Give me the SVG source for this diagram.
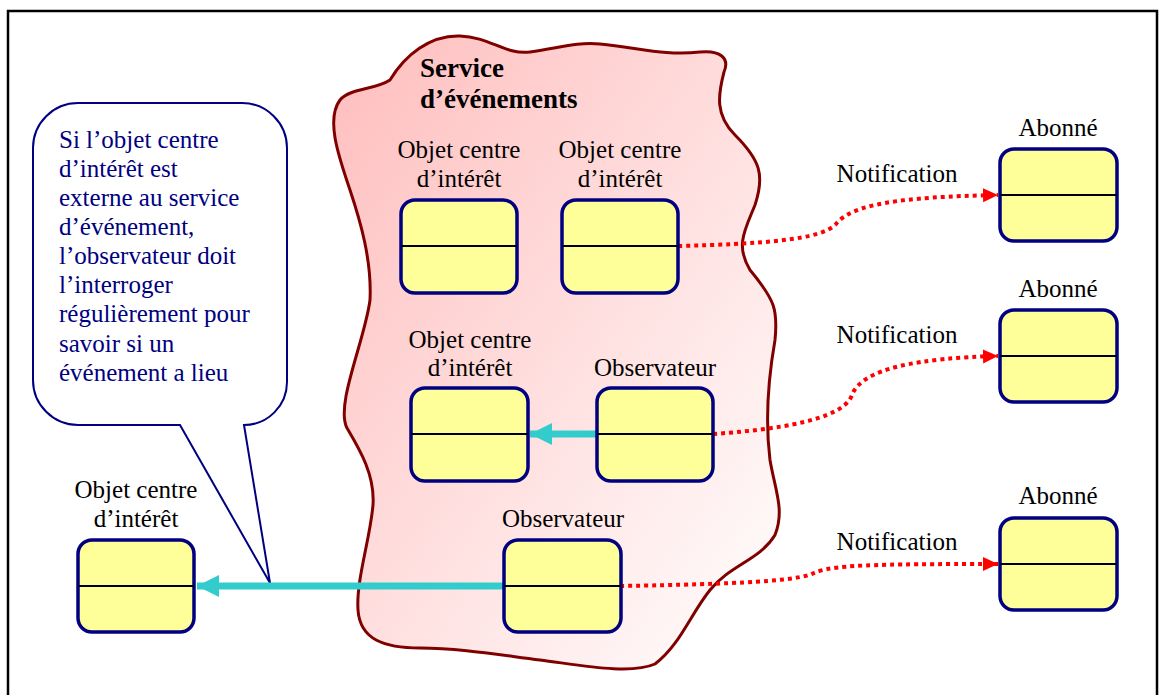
<svg xmlns="http://www.w3.org/2000/svg" width="1164" height="695" viewBox="0 0 1164 695" font-family="'Liberation Serif', 'DejaVu Serif', 'Times New Roman', serif">
  <defs>
    <linearGradient id="blobFill" x1="0" y1="0" x2="1" y2="1">
      <stop offset="0" stop-color="#FFBDBD"/>
      <stop offset="1" stop-color="#FFFFFF"/>
    </linearGradient>
    <marker id="redHead" markerUnits="userSpaceOnUse" markerWidth="16" markerHeight="16" refX="15" refY="7" orient="auto">
      <path d="M0,0 L15,7 L0,14 Z" fill="#FF0000"/>
    </marker>
    <marker id="cyanHead" markerUnits="userSpaceOnUse" markerWidth="24" markerHeight="24" refX="22" refY="11" orient="auto">
      <path d="M0,0 L22,11 L0,22 Z" fill="#33CCCC"/>
    </marker>
  </defs>
  <style>
    .frame { fill: none; stroke: #000; stroke-width: 2.5; }
    .blob { fill: url(#blobFill); stroke: #800000; stroke-width: 3; }
    .callout { fill: #fff; stroke: #000080; stroke-width: 2; }
    .box { fill: #FFFF99; stroke: #000080; stroke-width: 3.5; }
    .mid { stroke: #000; stroke-width: 2; }
    .lbl { font-size: 25px; fill: #000; text-anchor: middle; }
    .title { font-size: 27px; font-weight: bold; fill: #000; }
    .note { font-size: 25px; fill: #000080; }
    .notify { fill: none; stroke: #FF0000; stroke-width: 4; stroke-dasharray: 4 4; marker-end: url(#redHead); }
    .call { fill: none; stroke: #33CCCC; stroke-width: 7; marker-end: url(#cyanHead); }
  </style>

  <!-- outer frame -->
  <rect class="frame" x="8" y="11" width="1149" height="700"/>

  <!-- event service region -->
  <g id="service">
    <path class="blob" d="M390,80 C405,55 430,35 460,36 C490,37 505,55 530,52 C560,48 575,42 600,44 C640,48 665,56 700,52 C720,50 730,58 724,72 C718,95 715,115 735,135 C760,160 765,175 755,205 C745,230 735,245 750,270 C775,300 778,310 775,340 C768,380 765,420 770,460 C775,490 785,510 775,535 C760,560 730,565 710,590 C690,615 680,645 655,664 C630,675 580,665 540,660 C500,655 460,648 420,648 C385,648 360,640 358,610 C356,580 370,540 373,505 C375,475 360,450 347,428 C335,405 365,340 370,300 C372,260 360,220 350,190 C340,160 325,120 340,100 C350,88 375,90 390,80 Z"/>
    <text class="title" x="420" y="77">Service</text>
    <text class="title" x="420" y="108">d’événements</text>
  </g>

  <!-- speech bubble -->
  <g id="note">
    <path class="callout" d="M78,103 H242 A45,45 0 0 1 287,148 V382 A43,43 0 0 1 244,425 L270,583 L180,425 H78 A45,45 0 0 1 33,380 V148 A45,45 0 0 1 78,103 Z"/>
    <text class="note" x="59" y="148">Si l’objet centre</text>
    <text class="note" x="59" y="177">d’intérêt est</text>
    <text class="note" x="59" y="206">externe au service</text>
    <text class="note" x="59" y="235">d’événement,</text>
    <text class="note" x="59" y="264">l’observateur doit</text>
    <text class="note" x="59" y="293">l’interroger</text>
    <text class="note" x="59" y="322">régulièrement pour</text>
    <text class="note" x="59" y="352">savoir si un</text>
    <text class="note" x="59" y="381">événement a lieu</text>
  </g>

  <!-- connectors -->
  <g id="connectors">
    <path class="notify" d="M678,246 C760,244 822,240 836,224 C852,204 900,197 998,195"/>
    <path class="notify" d="M713,434 C800,428 845,415 852,395 C862,368 920,358 998,356"/>
    <path class="notify" d="M620,586 C740,584 798,581 814,573 C832,565 870,564 998,564"/>
    <line class="call" x1="597" y1="434" x2="530" y2="434"/>
    <line class="call" x1="503" y1="586" x2="197" y2="586"/>
  </g>

  <!-- objects -->
  <g id="subject-a">
    <text class="lbl" x="459" y="158">Objet centre</text>
    <text class="lbl" x="459" y="187">d’intérêt</text>
    <rect class="box" x="401" y="200" width="116" height="93" rx="14"/>
    <line class="mid" x1="401" y1="246" x2="517" y2="246"/>
  </g>
  <g id="subject-b">
    <text class="lbl" x="620" y="158">Objet centre</text>
    <text class="lbl" x="620" y="187">d’intérêt</text>
    <rect class="box" x="562" y="200" width="116" height="93" rx="14"/>
    <line class="mid" x1="562" y1="246" x2="678" y2="246"/>
  </g>
  <g id="subject-c">
    <text class="lbl" x="470" y="348">Objet centre</text>
    <text class="lbl" x="470" y="376">d’intérêt</text>
    <rect class="box" x="411" y="388" width="117" height="93" rx="14"/>
    <line class="mid" x1="411" y1="434" x2="528" y2="434"/>
  </g>
  <g id="observer-a">
    <text class="lbl" x="655" y="376">Observateur</text>
    <rect class="box" x="597" y="388" width="116" height="93" rx="14"/>
    <line class="mid" x1="597" y1="434" x2="713" y2="434"/>
  </g>
  <g id="observer-b">
    <text class="lbl" x="563" y="527">Observateur</text>
    <rect class="box" x="504" y="540" width="117" height="92" rx="14"/>
    <line class="mid" x1="504" y1="586" x2="621" y2="586"/>
  </g>
  <g id="subject-ext">
    <text class="lbl" x="136" y="498">Objet centre</text>
    <text class="lbl" x="136" y="527">d’intérêt</text>
    <rect class="box" x="78" y="540" width="116" height="92" rx="14"/>
    <line class="mid" x1="78" y1="586" x2="194" y2="586"/>
  </g>

  <!-- subscribers -->
  <g id="subscriber-1">
    <text class="lbl" x="1058" y="136">Abonné</text>
    <rect class="box" x="1000" y="149" width="117" height="92" rx="14"/>
    <line class="mid" x1="1000" y1="195" x2="1117" y2="195"/>
  </g>
  <g id="subscriber-2">
    <text class="lbl" x="1058" y="297">Abonné</text>
    <rect class="box" x="1000" y="310" width="117" height="92" rx="14"/>
    <line class="mid" x1="1000" y1="356" x2="1117" y2="356"/>
  </g>
  <g id="subscriber-3">
    <text class="lbl" x="1058" y="504">Abonné</text>
    <rect class="box" x="1000" y="518" width="117" height="92" rx="14"/>
    <line class="mid" x1="1000" y1="564" x2="1117" y2="564"/>
  </g>

  <!-- connector labels -->
  <g id="labels">
    <text class="lbl" x="897" y="182">Notification</text>
    <text class="lbl" x="897" y="343">Notification</text>
    <text class="lbl" x="897" y="550">Notification</text>
  </g>
</svg>
